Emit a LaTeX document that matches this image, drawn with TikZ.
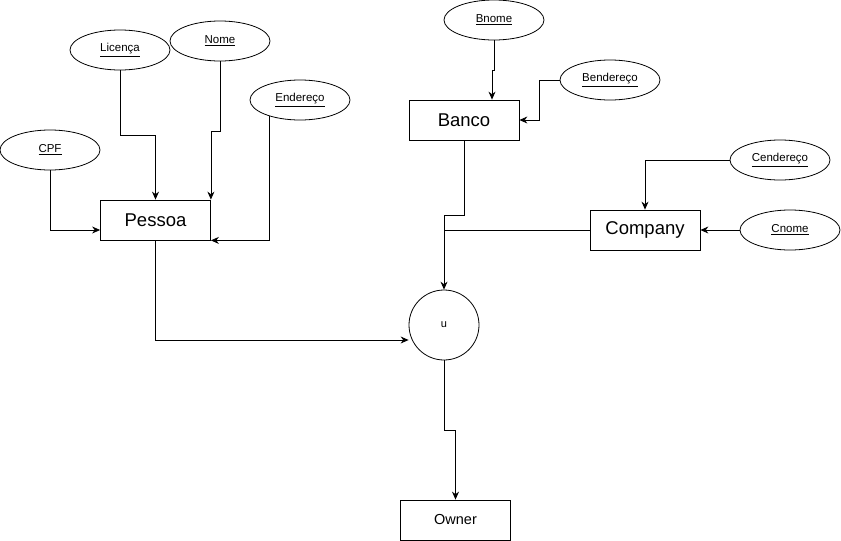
\documentclass[tikz,border=0pt]{standalone}
\usepackage{fontspec}
\setmainfont{Liberation Sans}
\usetikzlibrary{arrows.meta,shapes.geometric}

\tikzset{
  attr/.style={draw, ellipse, line width=0.8pt, minimum width=100pt, minimum height=40pt,
    inner sep=0pt, font=\fontsize{11.5}{13}\selectfont},
  ent/.style={draw, rectangle, line width=0.8pt, minimum width=110pt, minimum height=40pt,
    inner sep=0pt, font=\fontsize{18.5}{22}\selectfont},
  link/.style={line width=0.8pt, -{Stealth[length=8pt,width=7pt]}},
  plain/.style={line width=0.8pt},
}

\begin{document}
\begin{tikzpicture}[x=1pt,y=-1pt]
        \useasboundingbox (0,0) rectangle (841,541);
        %% entities
        \node[ent] (pessoa)  at (155.5,220) {Pessoa};
        \node[ent] (banco)   at (464,120)   {Banco};
        \node[ent] (company) at (645,230)   {Company};
        \node[ent,font=\fontsize{14.5}{17}\selectfont] (owner) at (455.5,520) {Owner};
        %% union
        \node[draw,circle,line width=0.8pt,minimum size=70pt,inner sep=0pt,
              font=\fontsize{11}{13}\selectfont] (u) at (444,325) {u};
        %% attributes
        \node[attr] (licenca)    at (120,50)  {\underline{Licença}};
        \node[attr] (nome)       at (220,41)  {\underline{Nome}};
        \node[attr] (endereco)   at (300,100) {\underline{Endereço}};
        \node[attr] (cpf)        at (50,150)  {\underline{CPF}};
        \node[attr] (bnome)      at (494,20)  {\underline{Bnome}};
        \node[attr] (bendereco)  at (610,80)  {\underline{Bendereço}};
        \node[attr] (cendereco)  at (780,160) {\underline{Cendereço}};
        \node[attr] (cnome)      at (790,230) {\underline{Cnome}};
        %% pessoa
        \draw[link] (licenca.south) -- ++(0,65) -| (pessoa.north);
        \draw[link] (nome.south) -- ++(0,70) -| (pessoa.north east);
        \draw[link] (endereco.208) |- (pessoa.south east);
        \draw[link] (cpf.south) |- ([yshift=-10pt]pessoa.west);
        %% banco
        \draw[link] (bnome.south) -- ++(0,30) -| ([xshift=28pt]banco.north);
        \draw[link] (bendereco.west) -- ++(-20,0) |- (banco.east);
        %% company
        \draw[link] (cendereco.west) -| (company.north);
        \draw[link] (cnome.west) -- (company.east);
        %% union
        \draw[link] (pessoa.south) |- ([yshift=-15pt]u.west);
        \draw[link] (banco.south) -- ++(0,75) -| (u.north);
        \draw[plain] (company.west) -- (u.north |- company.west);
        \draw[link] (u.south) -- ++(0,70) -| (owner.north);
\end{tikzpicture}
\end{document}
